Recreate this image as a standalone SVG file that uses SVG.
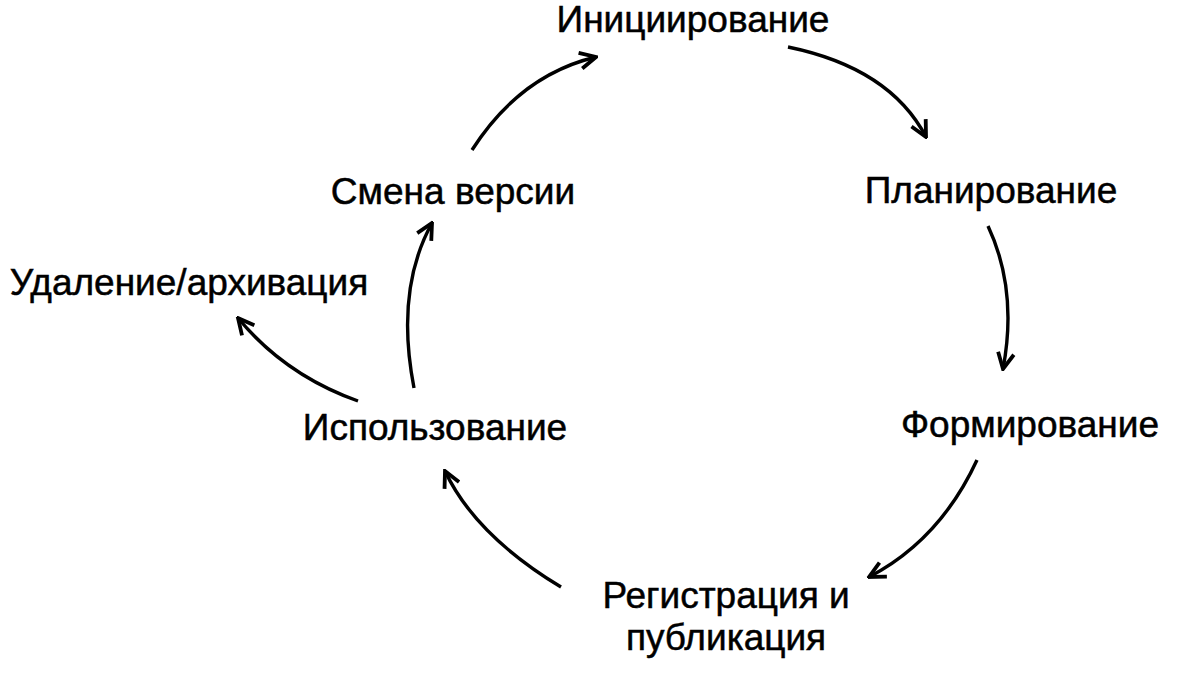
<svg xmlns="http://www.w3.org/2000/svg" width="1189" height="680" viewBox="0 0 1189 680">
<defs>
<style>
.lbl{font-family:"Liberation Sans",Arial,sans-serif;font-size:37px;fill:#000;stroke:#000;stroke-width:0.5;text-anchor:middle}
.arr{fill:none;stroke:#000;stroke-width:3.4;marker-end:url(#ah)}
</style>
<marker id="ah" viewBox="0 0 20 20" refX="18" refY="10" markerWidth="20" markerHeight="20" markerUnits="userSpaceOnUse" orient="auto">
<path d="M2,2 L18,10 L2,18" fill="none" stroke="#000" stroke-width="3.8"/>
</marker>
</defs>
<rect width="1189" height="680" fill="#fff"/>
<g id="n1"><text class="lbl" x="693" y="32">Инициирование</text></g>
<g id="n2"><text class="lbl" x="991" y="203">Планирование</text></g>
<g id="n3"><text class="lbl" x="1030" y="437">Формирование</text></g>
<g id="n4"><text class="lbl" x="726" y="608">Регистрация и</text><text class="lbl" x="726" y="650">публикация</text></g>
<g id="n5"><text class="lbl" x="435" y="440">Использование</text></g>
<g id="n6"><text class="lbl" x="189" y="295">Удаление/архивация</text></g>
<g id="n7"><text class="lbl" x="453" y="204">Смена версии</text></g>
<g id="connectors">
<path class="arr" d="M472,150 Q520,75 596,57"/>
<path class="arr" d="M788,47 Q890,68 926,137"/>
<path class="arr" d="M988,226 Q1018,290 1003,369"/>
<path class="arr" d="M977,460 Q940,540 869,577"/>
<path class="arr" d="M561,587 Q475,535 445,471"/>
<path class="arr" d="M358,401 Q285,375 238,318"/>
<path class="arr" d="M414,388 Q395,290 432,223"/>
</g>
</svg>
